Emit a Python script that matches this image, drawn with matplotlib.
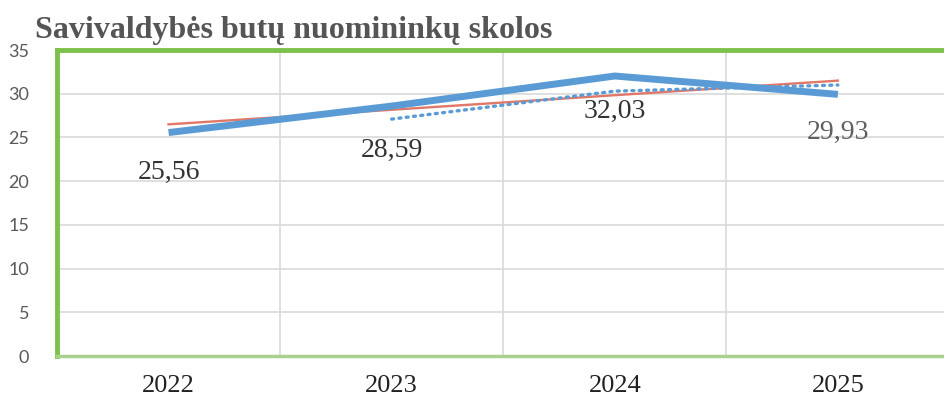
import matplotlib.pyplot as plt
from matplotlib.ticker import MultipleLocator, FixedLocator

# values
years = ["2022", "2023", "2024", "2025"]
debts = [25.56, 28.59, 32.03, 29.93]
debt_labels = ["25,56", "28,59", "32,03", "29,93"]
# linear trend line (endpoints as drawn)
trend_years = [0, 3]
trend_vals = [26.5, 31.5]
# 2-period moving average (dotted), starts at 2023
ma_years = [1, 2, 3]
ma_vals = [27.1, 30.3, 31.0]
label_y = [21.0, 23.5, 28.0, 25.6]

fig = plt.figure(figsize=(9.45, 4.01), dpi=100)
ax = fig.add_axes([0.0603, 0.1122, 0.9444, 0.763])

x = list(range(len(years)))
ax.plot(x, debts, color="#5B9BD5", lw=5, solid_capstyle="butt", zorder=4)
ax.plot(trend_years, trend_vals, color="#E07868", lw=1.7, zorder=3)
ax.plot(ma_years, ma_vals, color="#5B9BD5", lw=2.4, ls=(0, (0.6, 1.6)),
        dash_capstyle="round", zorder=3)

for i, (lab, yy) in enumerate(zip(debt_labels, label_y)):
    col = "#606060" if i == 3 else "#333333"
    ax.text(i, yy, lab, ha="center", va="center", fontsize=20,
            family="Liberation Serif", color=col, zorder=5)

ax.set_xlim(-0.5, 3.5)
ax.set_ylim(0, 35)
ax.set_xticks(x)
ax.set_xticklabels(years, family="Liberation Serif", fontsize=19, color="#222222")
ax.xaxis.set_minor_locator(FixedLocator([0.5, 1.5, 2.5]))
ax.yaxis.set_major_locator(MultipleLocator(5))
for lab in ax.get_yticklabels():
    lab.set_family("Lato")
    lab.set_fontsize(13)
    lab.set_color("#595959")
ax.tick_params(axis="both", which="both", length=0)
ax.tick_params(axis="y", pad=20)
ax.tick_params(axis="x", pad=14)

ax.grid(axis="y", which="major", color="#D9D9D9", lw=1.2)
ax.grid(axis="x", which="minor", color="#D9D9D9", lw=1.2)
ax.set_axisbelow(True)

for side in ["left", "top", "right"]:
    ax.spines[side].set_color("#7DC14B")
    ax.spines[side].set_linewidth(3.5)
ax.spines["bottom"].set_color("#A9D18E")
ax.spines["bottom"].set_linewidth(2.5)

fig.text(0.037, 0.905, "Savivaldybės butų nuomininkų skolos", family="Liberation Serif",
         fontweight="bold", fontsize=23, color="#555555", ha="left", va="baseline")

fig.savefig("out.png", dpi=100)
